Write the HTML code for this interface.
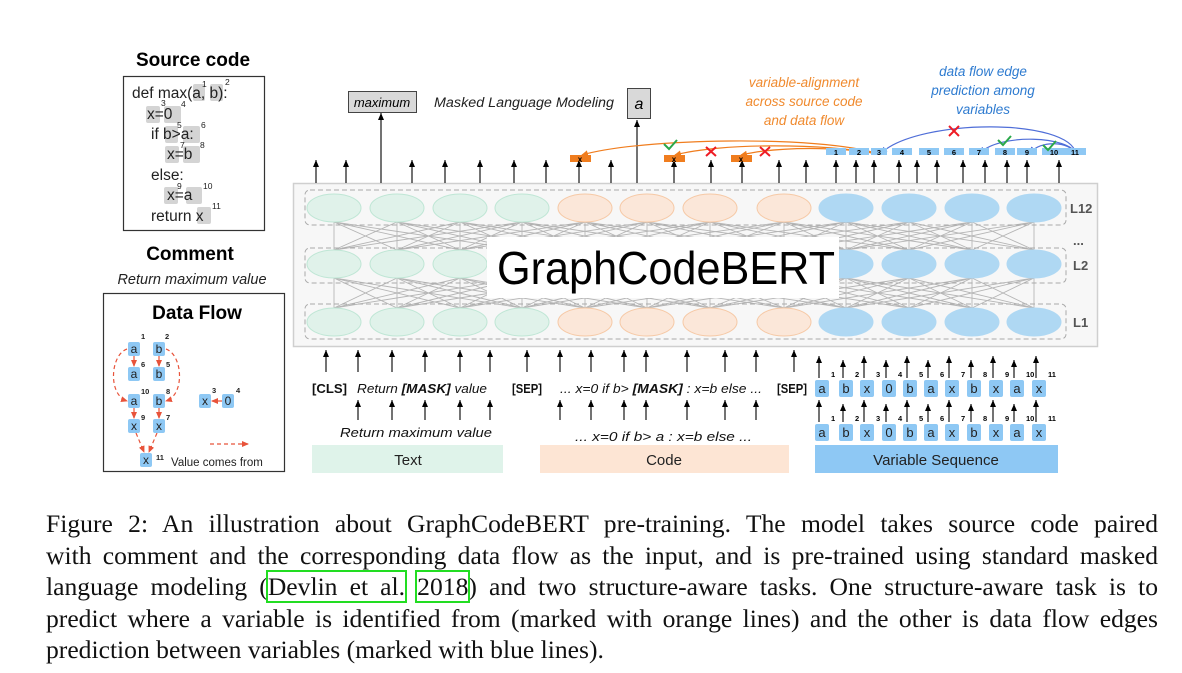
<!DOCTYPE html>
<html><head><meta charset="utf-8"><style>
body{margin:0;background:#fff;width:1182px;height:673px;overflow:hidden;position:relative}
svg{position:absolute;left:0;top:0}
.cap{position:absolute;left:46px;width:1112px;font-family:"Liberation Serif",serif;font-size:25.6px;color:#111;line-height:31.6px;top:508px}
.cap div{text-align:justify;text-align-last:justify;white-space:nowrap}
.cap div.l{text-align-last:left}
.g{outline:2px solid #22dd22;outline-offset:0}
</style></head><body>
<svg id="s" width="1182" height="673" font-family="Liberation Sans, DejaVu Sans, sans-serif">
<defs>
<marker id="ak" markerWidth="8" markerHeight="8" refX="7" refY="4" orient="auto" markerUnits="userSpaceOnUse"><path d="M0,1 L7,4 L0,7 Z" fill="#000"/></marker>
<marker id="ar" markerWidth="8" markerHeight="8" refX="6" refY="4" orient="auto" markerUnits="userSpaceOnUse"><path d="M0,1 L7,4 L0,7 Z" fill="#e8533a"/></marker>
<marker id="ao" markerWidth="8" markerHeight="8" refX="6" refY="4" orient="auto" markerUnits="userSpaceOnUse"><path d="M0,1 L7,4 L0,7 Z" fill="#f07d1e"/></marker>
<marker id="ab" markerWidth="8" markerHeight="8" refX="6" refY="4" orient="auto" markerUnits="userSpaceOnUse"><path d="M0,1 L7,4 L0,7 Z" fill="#4f6ed8"/></marker>
</defs>
<!-- left panel -->
<text x="193" y="66" font-size="19" font-weight="bold" text-anchor="middle">Source code</text>
<rect x="123.5" y="76.5" width="141" height="154" fill="none" stroke="#333" stroke-width="1.2"/>
<g fill="#d4d4d4">
<rect x="193" y="84" width="12" height="17" rx="2"/><rect x="210" y="84" width="13" height="17" rx="2"/>
<rect x="146" y="106" width="14" height="17" rx="2"/><rect x="164" y="106" width="17" height="17" rx="2"/>
<rect x="165" y="126" width="13" height="17" rx="2"/><rect x="183" y="126" width="17" height="17" rx="2"/>
<rect x="165" y="146" width="14" height="17" rx="2"/><rect x="183" y="146" width="17" height="17" rx="2"/>
<rect x="164" y="187" width="14" height="17" rx="2"/><rect x="186" y="187" width="16" height="17" rx="2"/>
<rect x="197" y="207" width="14" height="17" rx="2"/>
</g>
<g font-size="15.5" fill="#222">
<text x="132" y="98">def max(a, b):</text>
<text x="147" y="119">x=0</text>
<text x="151" y="139">if b&gt;a:</text>
<text x="167" y="159">x=b</text>
<text x="151" y="180">else:</text>
<text x="167" y="200">x=a</text>
<text x="151" y="221">return x</text>
</g>
<g font-size="8.5" fill="#222">
<text x="202" y="87">1</text><text x="225" y="85">2</text>
<text x="161" y="106">3</text><text x="181" y="107">4</text>
<text x="177" y="128">5</text><text x="201" y="128">6</text>
<text x="180" y="148">7</text><text x="200" y="148">8</text>
<text x="177" y="189">9</text><text x="203" y="189">10</text>
<text x="212" y="209">11</text>
</g>
<text x="190" y="260" font-size="19" font-weight="bold" text-anchor="middle">Comment</text>
<text x="192" y="284" font-size="14.5" font-style="italic" text-anchor="middle" fill="#222">Return maximum value</text>
<rect x="103.5" y="293.5" width="181" height="178" fill="none" stroke="#333" stroke-width="1.2"/>
<text x="197" y="319" font-size="19" font-weight="bold" text-anchor="middle">Data Flow</text>
<g stroke="#e8533a" stroke-width="1.2" fill="none" stroke-dasharray="4,3">
<path d="M134,356 L134,366" marker-end="url(#ar)"/><path d="M159,356 L159,366" marker-end="url(#ar)"/>
<path d="M134,408 L134,418" marker-end="url(#ar)"/><path d="M159,408 L159,418" marker-end="url(#ar)"/>
<path d="M127,349 C110,355 108,395 127,401" marker-end="url(#ar)"/>
<path d="M166,349 C183,355 185,395 166,401" marker-end="url(#ar)"/>
<path d="M136,433 L144,452" marker-end="url(#ar)"/><path d="M157,433 L149,452" marker-end="url(#ar)"/>
<path d="M222,401 L212,401" marker-end="url(#ar)"/>
<path d="M210,444 L248,444" marker-end="url(#ar)"/>
</g>
<g fill="#8ec8f4"><rect x="128" y="342" width="12" height="14" rx="2"/><rect x="153" y="342" width="12" height="14" rx="2"/>
<rect x="128" y="367" width="12" height="14" rx="2"/><rect x="153" y="367" width="12" height="14" rx="2"/>
<rect x="128" y="394" width="12" height="14" rx="2"/><rect x="153" y="394" width="12" height="14" rx="2"/>
<rect x="128" y="419" width="12" height="14" rx="2"/><rect x="153" y="419" width="12" height="14" rx="2"/>
<rect x="140" y="453" width="12" height="14" rx="2"/><rect x="199" y="394" width="12" height="14" rx="2"/><rect x="222" y="394" width="12" height="14" rx="2"/></g>
<g font-size="12" text-anchor="middle" fill="#222">
<text x="134" y="353">a</text><text x="159" y="353">b</text><text x="134" y="378">a</text><text x="159" y="378">b</text>
<text x="134" y="405">a</text><text x="159" y="405">b</text><text x="134" y="430">x</text><text x="159" y="430">x</text>
<text x="146" y="464">x</text><text x="205" y="405">x</text><text x="228" y="405">0</text></g>
<g font-size="7.5" font-weight="bold" fill="#222">
<text x="141" y="339">1</text><text x="165" y="339">2</text><text x="141" y="367">6</text><text x="166" y="367">5</text>
<text x="141" y="394">10</text><text x="166" y="394">8</text><text x="141" y="420">9</text><text x="166" y="420">7</text>
<text x="156" y="460">11</text><text x="212" y="393">3</text><text x="236" y="393">4</text></g>
<text x="171" y="466" font-size="11.5" fill="#222">Value comes from</text>

<!-- main box -->
<rect x="293.5" y="183.5" width="804" height="163" fill="#f7f7f7" stroke="#cfcfcf" stroke-width="1.5"/>
<g id="lines" stroke="#b5b5b5" stroke-width="0.9"></g>
<g fill="none" stroke="#aaa" stroke-width="1" stroke-dasharray="5,3">
<rect x="305" y="190" width="761" height="35" rx="5"/><rect x="305" y="248" width="761" height="35" rx="5"/><rect x="305" y="304" width="761" height="35" rx="5"/></g>
<g id="ells"></g>
<rect x="487" y="237" width="352" height="61" fill="#fff"/>
<text x="497" y="284" font-size="46" fill="#000" textLength="338" lengthAdjust="spacingAndGlyphs">GraphCodeBERT</text>
<g font-size="13" font-weight="bold" fill="#555">
<text x="1070" y="213">L12</text><text x="1073" y="245">...</text><text x="1073" y="270">L2</text><text x="1073" y="327">L1</text></g>

<!-- top -->
<g id="tarrows" stroke="#000" stroke-width="1.1"></g>
<rect x="348.5" y="91.5" width="68" height="21" fill="#d9d9d9" stroke="#444"/>
<text x="382" y="107" font-size="13" font-style="italic" text-anchor="middle">maximum</text>
<text x="434" y="107" font-size="13.5" font-style="italic" fill="#222" textLength="180" lengthAdjust="spacingAndGlyphs">Masked Language Modeling</text>
<rect x="627.5" y="88.5" width="23" height="30" fill="#d9d9d9" stroke="#444"/>
<text x="639" y="109" font-size="16" font-style="italic" text-anchor="middle">a</text>
<g font-size="13.5" font-style="italic" fill="#f08a2e" text-anchor="middle">
<text x="804" y="87">variable-alignment</text><text x="804" y="106">across source code</text><text x="804" y="125">and data flow</text></g>
<g font-size="13.5" font-style="italic" fill="#2e7bd0" text-anchor="middle">
<text x="983" y="76">data flow edge</text><text x="983" y="95">prediction among</text><text x="983" y="114">variables</text></g>
<g fill="none" stroke-width="1.2">
<path d="M879,154 C820,135 640,138 582,155" stroke="#f07d1e" marker-end="url(#ao)"/>
<path d="M879,154 C820,143 720,143 675,155" stroke="#f07d1e" marker-end="url(#ao)"/>
<path d="M879,154 C840,147 780,146 741,155" stroke="#f07d1e" marker-end="url(#ao)"/>
<path d="M1076,154 C1070,118 920,118 881,153" stroke="#4f6ed8" marker-end="url(#ab)"/>
<path d="M1076,154 C1070,136 1000,133 980,153" stroke="#4f6ed8" marker-end="url(#ab)"/>
<path d="M1076,154 C1070,141 1040,140 1030,153" stroke="#4f6ed8" marker-end="url(#ab)"/>
</g>
<g fill="#f07d1e"><rect x="570" y="155" width="21" height="7"/><rect x="664" y="155" width="21" height="7"/><rect x="731" y="155" width="21" height="7"/></g>
<g font-size="8" font-weight="bold" text-anchor="middle"><text x="580" y="162">x</text><text x="674" y="162">x</text><text x="741" y="162">x</text></g>
<g id="vtop"></g>
<g stroke="#ee1c24" stroke-width="2"><path d="M706,147 L716,156 M716,147 L706,156"/><path d="M760,147 L770,156 M770,147 L760,156"/><path d="M949,126 L959,136 M959,126 L949,136"/></g>
<g stroke="#2aa84a" stroke-width="2" fill="none"><path d="M664,144 L669,149 L677,140"/><path d="M998,140 L1003,145 L1011,136"/><path d="M1043,145 L1048,150 L1056,141"/></g>

<!-- bottom -->
<g id="barrows" stroke="#000" stroke-width="1.1"></g>
<g font-size="13" fill="#111">
<text x="312" y="393" font-weight="bold" textLength="35" lengthAdjust="spacingAndGlyphs">[CLS]</text>
<text x="357" y="393" font-style="italic" textLength="130" lengthAdjust="spacingAndGlyphs">Return <tspan font-weight="bold">[MASK]</tspan> value</text>
<text x="340" y="437" font-style="italic" textLength="152" lengthAdjust="spacingAndGlyphs">Return maximum value</text>
<text x="512" y="393" font-weight="bold" textLength="30" lengthAdjust="spacingAndGlyphs">[SEP]</text>
<text x="560" y="393" font-style="italic" textLength="202" lengthAdjust="spacingAndGlyphs">... x=0 if b&gt; <tspan font-weight="bold">[MASK]</tspan> : x=b else ...</text>
<text x="575" y="441" font-style="italic" textLength="177" lengthAdjust="spacingAndGlyphs">... x=0 if b&gt;  a  : x=b else ...</text>
<text x="777" y="393" font-weight="bold" textLength="30" lengthAdjust="spacingAndGlyphs">[SEP]</text>
</g>
<g id="vbot"></g>
<rect x="312" y="445" width="191" height="28" fill="#dff3ea"/>
<rect x="540" y="445" width="249" height="28" fill="#fde5d4"/>
<rect x="815" y="445" width="243" height="28" fill="#8ec8f4"/>
<g font-size="15" text-anchor="middle" fill="#222"><text x="408" y="465">Text</text><text x="664" y="465">Code</text><text x="936" y="465">Variable Sequence</text></g>
</svg>
<div class="cap">
<div>Figure 2: An illustration about GraphCodeBERT pre-training. The model takes source code paired</div>
<div>with comment and the corresponding data flow as the input, and is pre-trained using standard masked</div>
<div>language modeling (<span class="g">Devlin et al.</span> <span class="g">2018</span>) and two structure-aware tasks. One structure-aware task is to</div>
<div>predict where a variable is identified from (marked with orange lines) and the other is data flow edges</div>
<div class="l">prediction between variables (marked with blue lines).</div>
</div>
<script>
const NS="http://www.w3.org/2000/svg";
function el(p,t,a,txt){const e=document.createElementNS(NS,t);for(const k in a)e.setAttribute(k,a[k]);if(txt!==undefined)e.textContent=txt;document.getElementById(p).appendChild(e);return e;}
const xs=[334,397,460,522,585,647,710,784,846,909,972,1034];
const rows=[208,264,322];
const cols=xs.map((x,i)=>i<4?["#e0f2ea","#bfe6d5"]:i<8?["#fbe7d9","#f6c9a6"]:["#afd8f3","#afd8f3"]);
rows.forEach(y=>xs.forEach((x,i)=>el("ells","ellipse",{cx:x,cy:y,rx:27,ry:14,fill:cols[i][0],stroke:cols[i][1]})));
[[222,250],[278,308]].forEach(([a,b])=>{xs.forEach(x1=>{xs.forEach(x2=>{if(Math.abs(x1-x2)<200)el("lines","line",{x1:x1,y1:a,x2:x2,y2:b});});});});
const tx=[316,346,412,445,480,514,546,579,611,674,711,742,779,806,836,856,874,899,917,937,963,985,1007,1027,1059];
tx.forEach(x=>el("tarrows","line",{x1:x,y1:183,x2:x,y2:160,"marker-end":"url(#ak)"}));
el("tarrows","line",{x1:381,y1:183,x2:381,y2:113,"marker-end":"url(#ak)"});
el("tarrows","line",{x1:637,y1:183,x2:637,y2:120,"marker-end":"url(#ak)"});
const vx=[836,859,879,902,929,954,979,1005,1027,1054,1075];
const vw=[20,20,16,20,20,20,20,20,20,24,22];
vx.forEach((x,i)=>{el("vtop","rect",{x:x-vw[i]/2,y:148,width:vw[i],height:7,fill:"#8ec8f4"});el("vtop","text",{x:x,y:155,"font-size":7.5,"font-weight":"bold","text-anchor":"middle"},i+1);});
const bx=[326,358,392,425,460,490,527,560,591,624,646,687,725,756,794];
bx.forEach(x=>el("barrows","line",{x1:x,y1:372,x2:x,y2:350,"marker-end":"url(#ak)"}));
[358,392,425,460,490,560,591,624,646,687,725,756].forEach(x=>el("barrows","line",{x1:x,y1:420,x2:x,y2:400,"marker-end":"url(#ak)"}));
const toks=["a","b","x","0","b","a","x","b","x","a","x"];
const tpos=[822,846,867,889,910,931,952,974,996,1017,1039];
[388,432].forEach((cy,r)=>{tpos.forEach((x,i)=>{
 el("barrows","line",{x1:x-3,y1:cy-10,x2:x-3,y2:cy-10-(i%2?18:22),"marker-end":"url(#ak)"});
 el("vbot","rect",{x:x-7,y:cy-8,width:14,height:17,rx:2,fill:"#8ec8f4"});
 el("vbot","text",{x:x,y:cy+5,"font-size":13,"text-anchor":"middle",fill:"#222"},toks[i]);
 el("vbot","text",{x:x+9,y:cy-11,"font-size":7.5,"font-weight":"bold"},i+1);
});});
</script>
</body></html>
